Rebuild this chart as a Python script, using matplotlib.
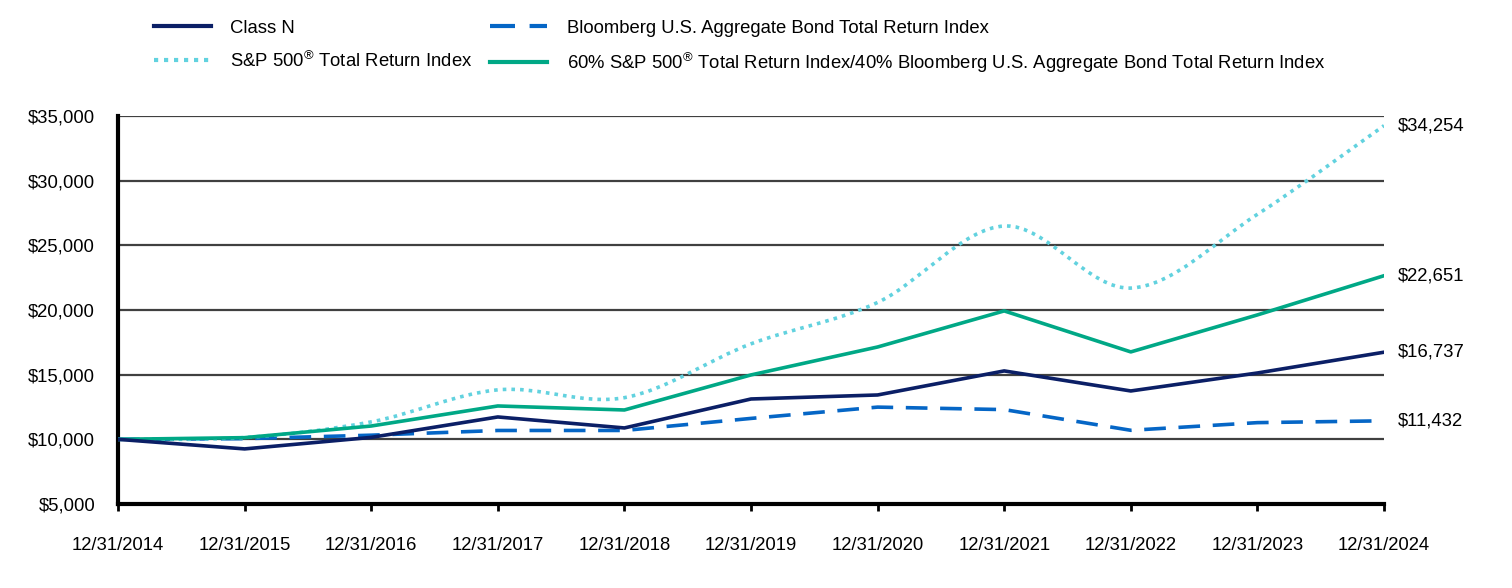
import numpy as np
import matplotlib
matplotlib.use('Agg')
import matplotlib.pyplot as plt
from matplotlib.path import Path
from matplotlib.patches import PathPatch
from matplotlib.lines import Line2D
from matplotlib.ticker import FuncFormatter

plt.rcParams['font.family'] = ['Liberation Sans', 'DejaVu Sans']
plt.rcParams['mathtext.fontset'] = 'custom'
plt.rcParams['mathtext.rm'] = 'Liberation Sans'
plt.rcParams['mathtext.it'] = 'Liberation Sans'

# data
dates = ['12/31/2014', '12/31/2015', '12/31/2016', '12/31/2017', '12/31/2018', '12/31/2019',
         '12/31/2020', '12/31/2021', '12/31/2022', '12/31/2023', '12/31/2024']
class_n = [10000, 9260, 10150, 11730, 10880, 13120, 13430, 15290, 13740, 15130, 16737]
bloomberg = [10000, 10054, 10320, 10685, 10686, 11618, 12491, 12299, 10699, 11291, 11432]
sp500 = [10000, 10138, 11349, 13827, 13221, 17384, 20583, 26492, 21694, 27398, 34254]
blend = [10000, 10130, 11030, 12580, 12270, 14980, 17140, 19930, 16760, 19620, 22651]

c_navy = '#0b1f66'
c_blue = '#0566c6'
c_cyan = '#62d2df'
c_green = '#00a886'
fs = 13.3

fig = plt.figure(figsize=(15.12, 5.88), dpi=100)
ax = fig.add_axes([118 / 1512, 1 - 504 / 588, (1384 - 118) / 1512, (504 - 116) / 588])

x = np.arange(len(dates))

# gridlines
for v in range(10000, 35001, 5000):
    ax.axhline(v, color='#404040', lw=1.6, zorder=1)


def smooth_path(xs, ys):
    # catmull-rom style bezier through the points (like a smoothed line)
    pts = np.column_stack([xs, ys]).astype(float)
    verts = [pts[0]]
    codes = [Path.MOVETO]
    n = len(pts)
    for i in range(n - 1):
        p0 = pts[i - 1] if i > 0 else pts[i]
        p1 = pts[i]
        p2 = pts[i + 1]
        p3 = pts[i + 2] if i + 2 < n else pts[i + 1]
        c1 = p1 + (p2 - p0) / 6
        c2 = p2 - (p3 - p1) / 6
        verts += [c1, c2, p2]
        codes += [Path.CURVE4] * 3
    return Path(verts, codes)


ax.plot(x, bloomberg, color=c_blue, lw=2.6, ls=(0, (6, 3.5)), zorder=3)
patch = PathPatch(smooth_path(x, sp500), facecolor='none', edgecolor=c_cyan, lw=2.6,
                  ls=(0, (1, 1.4)), zorder=3)
ax.add_patch(patch)
ax.plot(x, blend, color=c_green, lw=2.6, zorder=4)
ax.plot(x, class_n, color=c_navy, lw=2.6, zorder=5)

ax.set_xlim(0, 10)
ax.set_ylim(5000, 35000)
ax.set_yticks(range(5000, 35001, 5000))
ax.yaxis.set_major_formatter(FuncFormatter(lambda v, p: '${:,.0f}'.format(v)))
ax.set_xticks(x)
ax.set_xticklabels(dates)
ax.tick_params(axis='y', length=0, labelsize=fs, pad=16.5)
ax.tick_params(axis='x', length=5, width=2, color='black', labelsize=fs, pad=19, direction='out')

for s in ['top', 'right']:
    ax.spines[s].set_visible(False)
for s in ['left', 'bottom']:
    ax.spines[s].set_linewidth(3)
    ax.spines[s].set_color('black')

# end labels
for vals in [sp500, blend, class_n, bloomberg]:
    ax.text(10.11, vals[-1], '${:,.0f}'.format(vals[-1]), fontsize=fs, va='center', ha='left',
            clip_on=False)

handles = [
    Line2D([], [], color=c_navy, lw=3),
    Line2D([], [], color=c_cyan, lw=3, ls=(0, (1, 1.4))),
    Line2D([], [], color=c_blue, lw=3, ls=(0, (6, 3.5))),
    Line2D([], [], color=c_green, lw=3),
]
labels = [
    'Class N',
    'S&P 500$^{®}$ Total Return Index',
    'Bloomberg U.S. Aggregate Bond Total Return Index',
    '60% S&P 500$^{®}$ Total Return Index/40% Bloomberg U.S. Aggregate Bond Total Return Index',
]
fig.legend(handles, labels, ncol=2, loc='upper left', bbox_to_anchor=(137 / 1512, 1 - 3 / 588),
           frameon=False, fontsize=fs, handlelength=3.1, handletextpad=1.05,
           columnspacing=0.95, labelspacing=0.75)

fig.savefig('out.png', dpi=100)
